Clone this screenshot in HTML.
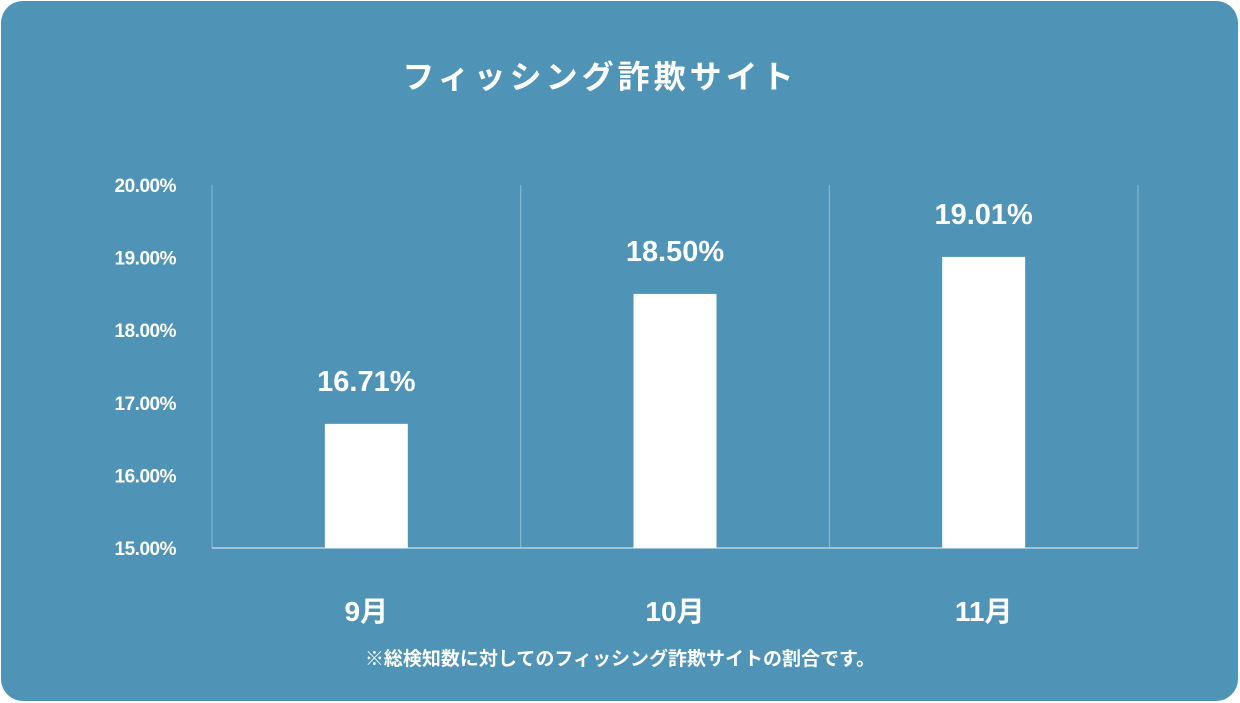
<!DOCTYPE html>
<html><head><meta charset="utf-8"><style>
body{margin:0;width:1240px;height:703px;background:#fff;overflow:hidden;font-family:"Liberation Sans","Noto Sans CJK JP",sans-serif}
#card{position:absolute;left:1px;top:1px;width:1237px;height:700px;background:#4f93b6;border-radius:22px}
</style></head><body>
<div id="card"></div>
<svg id="c" width="1240" height="703" style="position:absolute;left:0;top:0">
<text x="600" y="88" text-anchor="middle" fill="#fff" font-size="32" font-weight="bold" letter-spacing="4" font-family="Liberation Sans,Noto Sans CJK JP,sans-serif">フィッシング詐欺サイト</text>
<text x="620" y="665" text-anchor="middle" fill="#fff" font-size="19" font-weight="bold" font-family="Liberation Sans,Noto Sans CJK JP,sans-serif">※総検知数に対してのフィッシング詐欺サイトの割合です。</text>
</svg>
<script>
const categories=["9月","10月","11月"];
const values=[16.71,18.50,19.01];
const ticks=[15,16,17,18,19,20];
const svg=document.getElementById('c');
const NS='http://www.w3.org/2000/svg';
const x0=212,x1=1138,y0=548,y1=185,ymin=15,ymax=20;
const bw=(x1-x0)/categories.length;
const y=v=>y0-(v-ymin)/(ymax-ymin)*(y0-y1);
function mk(t,a){const e=document.createElementNS(NS,t);for(const k in a)e.setAttribute(k,a[k]);svg.appendChild(e);return e;}
ticks.forEach(t=>{
  const e=mk('text',{x:176,y:y(t)+7,'text-anchor':'end',fill:'#fff','font-size':19,'font-weight':'bold','letter-spacing':'-0.5'});
  e.textContent=t.toFixed(2)+'%';
  
  
});
for(let i=0;i<=categories.length;i++){
  const l=mk('line',{x1:x0+i*bw,x2:x0+i*bw,y1:y1,y2:y0,stroke:'#8fbdd6','stroke-width':1});
  
  
}
const base=mk('line',{x1:x0,x2:x1,y1:y0,y2:y0,stroke:'#b5d4e4','stroke-width':1.5});


categories.forEach((c,i)=>{
  const cx=x0+bw*(i+0.5);
  const r=mk('rect',{x:cx-41.5,y:y(values[i]),width:83,height:y0-y(values[i]),fill:'#fff'});
  
  
  const v=mk('text',{x:cx,y:y(values[i])-33,'text-anchor':'middle',fill:'#fff','font-size':29,'font-weight':'bold'});
  v.textContent=values[i].toFixed(2)+'%';
  
  
  const t=mk('text',{x:cx,y:621,'text-anchor':'middle',fill:'#fff','font-size':28,'font-weight':'bold'});
  t.textContent=c;
  
  
});
</script>
</body></html>
